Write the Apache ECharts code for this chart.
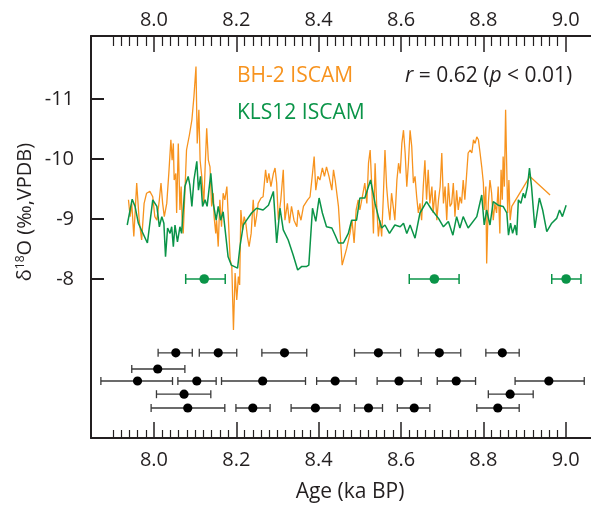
<!DOCTYPE html>
<html>
<head>
<meta charset="utf-8">
<script src="https://cdn.jsdelivr.net/npm/echarts@6/dist/echarts.min.js"></script>
<style>
html,body{margin:0;padding:0;background:#fff;}
#c{width:591px;height:508px;}
</style>
</head>
<body>
<div id="c"></div>
<script>
// ---- tick values ----
const ageMajorTicks = [8.0, 8.2, 8.4, 8.6, 8.8, 9.0];
const ageMinorTicks = [7.90, 7.92, 7.94, 7.96, 7.98, 8.02, 8.04, 8.06, 8.08, 8.10, 8.12, 8.14, 8.16, 8.18,
  8.22, 8.24, 8.26, 8.28, 8.30, 8.32, 8.34, 8.36, 8.38, 8.42, 8.44, 8.46, 8.48, 8.50, 8.52, 8.54, 8.56, 8.58,
  8.62, 8.64, 8.66, 8.68, 8.70, 8.72, 8.74, 8.76, 8.78, 8.82, 8.84, 8.86, 8.88, 8.90, 8.92, 8.94, 8.96, 8.98];
const d18OTicks = [-11, -10, -9, -8];

// ---- BH-2 ISCAM (orange) ----
const bh2Age = [7.938,7.942,7.946,7.951,7.958,7.964,7.970,7.976,7.982,7.990,7.997,8.002,8.007,8.013,8.017,8.021,8.025,8.031,8.036,8.041,
 8.044,8.047,8.049,8.053,8.055,8.059,8.063,8.066,8.068,8.071,8.075,8.079,8.086,8.092,8.097,8.102,8.105,8.109,8.112,8.116,
 8.121,8.124,8.128,8.132,8.136,8.140,8.144,8.146,8.150,8.152,8.156,8.160,8.164,8.168,8.172,8.177,8.180,8.185,8.189,8.193,
 8.197,8.201,8.205,8.208,8.211,8.215,8.219,8.223,8.227,8.231,8.236,8.241,8.245,8.249,8.253,8.260,8.265,8.271,8.275,8.279,
 8.284,8.290,8.294,8.298,8.302,8.308,8.314,8.318,8.324,8.329,8.334,8.340,8.347,8.350,8.357,8.363,8.367,8.373,8.379,8.385,
 8.389,8.393,8.398,8.403,8.409,8.414,8.419,8.425,8.432,8.436,8.440,8.448,8.457,8.468,8.476,8.481,8.486,8.491,8.496,8.500,
 8.506,8.512,8.517,8.521,8.525,8.529,8.533,8.537,8.541,8.545,8.549,8.553,8.557,8.561,8.565,8.569,8.573,8.577,8.581,8.585,
 8.590,8.594,8.598,8.602,8.606,8.610,8.614,8.618,8.622,8.626,8.630,8.634,8.638,8.642,8.646,8.650,8.654,8.658,8.662,8.666,
 8.670,8.675,8.678,8.683,8.687,8.691,8.695,8.699,8.703,8.707,8.711,8.715,8.719,8.723,8.727,8.731,8.735,8.739,8.743,8.747,
 8.751,8.755,8.759,8.763,8.768,8.772,8.776,8.780,8.784,8.788,8.792,8.796,8.800,8.802,8.806,8.808,8.812,8.816,8.820,8.824,
 8.828,8.832,8.836,8.840,8.843,8.846,8.848,8.851,8.854,8.856,8.859,8.862,8.865,8.869,8.873,8.913,8.962];
const bh2D18O = [-9.32,-9.04,-9.26,-8.71,-9.60,-8.98,-8.65,-9.26,-9.43,-9.46,-9.37,-9.04,-8.98,-9.32,-9.60,-9.26,-9.04,-9.26,-9.76,-10.32,
 -9.98,-10.26,-9.65,-9.76,-9.10,-10.26,-9.15,-9.54,-9.04,-8.76,-9.43,-10.15,-10.40,-10.65,-11.04,-11.54,-10.26,-10.82,-9.98,-9.71,
 -9.26,-9.82,-10.51,-9.98,-9.87,-9.21,-9.43,-9.04,-8.76,-8.98,-8.54,-9.32,-8.87,-9.43,-9.32,-9.54,-9.10,-8.32,-8.21,-7.15,
 -8.10,-7.65,-8.04,-7.90,-9.15,-8.82,-9.04,-8.93,-8.70,-8.54,-8.76,-9.32,-8.87,-9.04,-9.26,-9.35,-9.37,-9.82,-9.60,-9.76,
 -9.54,-9.76,-9.85,-9.60,-8.98,-9.32,-9.82,-8.98,-9.26,-8.93,-9.21,-8.98,-8.87,-9.15,-8.98,-9.21,-9.21,-9.32,-9.37,-9.76,
 -10.04,-9.48,-9.71,-9.65,-9.85,-9.71,-9.87,-9.71,-9.48,-9.82,-9.65,-9.21,-8.23,-8.51,-8.76,-8.98,-8.60,-9.15,-9.32,-9.15,
 -9.37,-9.60,-9.26,-9.93,-10.15,-9.54,-8.76,-9.93,-9.21,-8.71,-8.98,-8.71,-9.37,-10.15,-9.54,-9.21,-8.98,-9.43,-9.21,-8.98,
 -9.65,-9.93,-9.76,-10.26,-10.48,-10.10,-9.54,-9.93,-10.48,-10.21,-9.60,-9.71,-9.37,-9.10,-9.26,-8.98,-9.54,-9.98,-9.32,-9.82,
 -9.26,-9.54,-9.10,-9.48,-8.98,-9.32,-9.54,-10.10,-9.26,-9.54,-8.98,-9.60,-9.21,-9.26,-9.60,-9.04,-9.48,-9.15,-9.37,-9.26,
 -9.65,-9.32,-9.71,-10.10,-10.15,-10.10,-10.32,-10.26,-10.37,-10.32,-10.10,-9.87,-9.60,-9.15,-9.54,-8.26,-9.26,-9.65,-9.43,-8.98,
 -9.26,-9.10,-9.54,-8.76,-9.82,-9.32,-10.04,-9.54,-10.82,-10.10,-9.10,-9.65,-8.98,-9.21,-9.20,-9.71,-9.40];

// ---- KLS12 ISCAM (green) ----
const klsAge = [7.935,7.947,7.954,7.962,7.984,7.997,8.007,8.013,8.019,8.024,8.028,8.033,8.039,8.043,8.047,8.051,8.057,8.063,8.067,8.075,
 8.083,8.087,8.092,8.097,8.104,8.108,8.113,8.118,8.124,8.129,8.138,8.144,8.151,8.156,8.162,8.168,8.180,8.188,8.203,8.209,
 8.217,8.225,8.237,8.249,8.265,8.278,8.290,8.298,8.306,8.314,8.326,8.338,8.349,8.359,8.371,8.376,8.385,8.393,8.401,8.409,
 8.419,8.432,8.440,8.448,8.460,8.472,8.480,8.492,8.500,8.512,8.526,8.537,8.545,8.553,8.561,8.572,8.585,8.598,8.606,8.614,
 8.622,8.634,8.646,8.662,8.675,8.691,8.703,8.715,8.726,8.735,8.743,8.751,8.763,8.784,8.796,8.802,8.808,8.816,8.824,8.836,
 8.848,8.857,8.861,8.866,8.871,8.877,8.881,8.885,8.891,8.897,8.901,8.907,8.912,8.917,8.925,8.936,8.944,8.954,8.966,8.978,
 8.985,8.992,9.001];
const klsD18O = [-8.90,-9.33,-9.21,-8.93,-8.60,-9.32,-9.21,-8.87,-9.04,-8.93,-8.37,-8.85,-8.76,-8.87,-8.54,-8.90,-8.62,-8.87,-8.76,-9.54,
 -9.71,-9.57,-9.21,-9.65,-9.96,-9.48,-9.71,-9.21,-9.32,-9.21,-9.76,-9.26,-8.98,-9.21,-8.98,-9.12,-8.37,-8.23,-8.18,-8.55,
 -8.90,-8.98,-9.10,-9.18,-9.15,-9.23,-9.46,-8.60,-9.18,-8.82,-8.65,-8.40,-8.15,-8.21,-8.21,-8.23,-9.18,-8.96,-9.35,-9.10,
 -8.87,-8.85,-8.73,-8.60,-8.60,-8.76,-8.98,-8.98,-9.35,-9.35,-9.65,-9.26,-9.04,-8.85,-8.90,-8.76,-8.90,-8.87,-8.93,-8.76,
 -8.90,-8.68,-9.10,-9.29,-9.15,-9.01,-8.87,-8.96,-8.73,-9.04,-8.85,-9.04,-8.85,-9.04,-9.40,-8.90,-9.15,-8.90,-9.29,-9.23,
 -9.21,-9.10,-8.73,-8.93,-8.76,-8.90,-8.73,-9.32,-9.26,-9.43,-9.35,-9.54,-9.85,-9.54,-8.85,-9.35,-9.15,-8.79,-8.93,-9.01,
 -9.15,-9.04,-9.23];

// ---- green dated points (with age uncertainty) ----
const greenAge = [8.122, 8.681, 9.001];
const greenLo  = [8.077, 8.620, 8.966];
const greenHi  = [8.173, 8.741, 9.037];
const greenLevel = [-8, -8, -8];

// ---- black age-model points ----
const blackAge = [8.053, 8.156, 8.317, 8.545, 8.693, 8.846,
  8.009,
  7.960, 8.104, 8.264, 8.440, 8.595, 8.734, 8.959,
  8.073, 8.865,
  8.082, 8.240, 8.392, 8.521, 8.632, 8.835];
const blackLo = [8.010, 8.110, 8.262, 8.487, 8.642, 8.806,
  7.946,
  7.871, 8.058, 8.164, 8.395, 8.542, 8.688, 8.877,
  8.006, 8.812,
  7.993, 8.199, 8.333, 8.487, 8.591, 8.784];
const blackHi = [8.093, 8.201, 8.371, 8.599, 8.745, 8.887,
  8.075,
  8.045, 8.151, 8.368, 8.491, 8.649, 8.781, 9.045,
  8.138, 8.921,
  8.172, 8.282, 8.452, 8.555, 8.670, 8.887];
const blackLevel = [-6.77, -6.77, -6.77, -6.77, -6.77, -6.77,
  -6.50,
  -6.30, -6.30, -6.30, -6.30, -6.30, -6.30, -6.30,
  -6.08, -6.08,
  -5.85, -5.85, -5.85, -5.85, -5.85, -5.85];

const ORANGE = '#F7931E', GREEN = '#0A9448', INK = '#231F20';
const FONT = 'Open Sans';

function zip2(a, b) { return a.map((v, i) => [v, b[i]]); }
function zip4(a, b, c, d) { return a.map((v, i) => [v, b[i], c[i], d[i]]); }

function errRender(dotColor, barColor, r, lw, cap) {
  return function (params, api) {
    const x = api.value(0), lo = api.value(1), hi = api.value(2), y = api.value(3);
    const c = api.coord([x, y]), a = api.coord([lo, y]), b = api.coord([hi, y]);
    const ls = { stroke: barColor, lineWidth: lw };
    return {
      type: 'group',
      children: [
        { type: 'line', shape: { x1: a[0], y1: a[1], x2: b[0], y2: b[1] }, style: ls },
        { type: 'line', shape: { x1: a[0], y1: a[1] - cap, x2: a[0], y2: a[1] + cap }, style: ls },
        { type: 'line', shape: { x1: b[0], y1: b[1] - cap, x2: b[0], y2: b[1] + cap }, style: ls },
        { type: 'circle', shape: { cx: c[0], cy: c[1], r: r }, style: { fill: dotColor } }
      ]
    };
  };
}

const X_MIN = 7.847, X_MAX = 9.0614;
const baseX = {
  type: 'value', min: X_MIN, max: X_MAX,
  splitLine: { show: false },
  axisLine: { show: false }
};
const labelStyle = { color: INK, fontFamily: FONT, fontSize: 20 };

const chart = echarts.init(document.getElementById('c'), null, { renderer: 'canvas' });
chart.setOption({
  animation: false,
  backgroundColor: '#fff',
  grid: { left: 91, right: 0, top: 36, bottom: 70, containLabel: false },
  xAxis: [
    Object.assign({}, baseX, {
      position: 'bottom',
      axisLine: { show: true, onZero: false, lineStyle: { color: INK, width: 2 } },
      axisTick: { show: true, inside: true, length: 16, customValues: ageMajorTicks, lineStyle: { color: INK, width: 1.5 } },
      axisLabel: Object.assign({ show: true, margin: 12, customValues: ageMajorTicks, formatter: v => v.toFixed(1) }, labelStyle)
    }),
    Object.assign({}, baseX, {
      position: 'bottom',
      axisTick: { show: true, inside: true, length: 8, customValues: ageMinorTicks, lineStyle: { color: INK, width: 1.2 } },
      axisLabel: { show: false }
    }),
    Object.assign({}, baseX, {
      position: 'top',
      axisLine: { show: true, onZero: false, lineStyle: { color: INK, width: 2 } },
      axisTick: { show: true, inside: true, length: 16, customValues: ageMajorTicks, lineStyle: { color: INK, width: 1.5 } },
      axisLabel: Object.assign({ show: true, margin: 6, customValues: ageMajorTicks, formatter: v => v.toFixed(1) }, labelStyle)
    }),
    Object.assign({}, baseX, {
      position: 'top',
      axisTick: { show: true, inside: true, length: 10, customValues: ageMinorTicks, lineStyle: { color: INK, width: 1.2 } },
      axisLabel: { show: false }
    })
  ],
  yAxis: [{
    type: 'value', inverse: true, min: -12.05, max: -5.35, position: 'left',
    splitLine: { show: false },
    axisLine: { show: true, onZero: false, lineStyle: { color: INK, width: 2 } },
    axisTick: { show: true, inside: true, length: 13, customValues: d18OTicks, lineStyle: { color: INK, width: 2 } },
    axisLabel: Object.assign({ show: true, margin: 17, customValues: d18OTicks, formatter: v => String(Math.round(v)) }, labelStyle)
  }],
  graphic: [
    { type: 'text', left: 237, top: 66, style: { text: 'BH-2 ISCAM', fill: ORANGE, font: '21px "Open Sans"' } },
    { type: 'text', left: 237, top: 103, style: { text: 'KLS12 ISCAM', fill: GREEN, font: '21px "Open Sans"' } },
    { type: 'text', left: 405, top: 66, style: {
        text: '{i|r} = 0.62 ({i|p} < 0.01)', fill: INK, font: '21px "Open Sans"',
        rich: { i: { fontStyle: 'italic', fontFamily: FONT, fontSize: 21, fill: INK } } } },
    { type: 'text', x: 25, y: 212, rotation: Math.PI / 2, style: {
        text: 'δ{s|18}O (‰,VPDB)', fill: INK, font: '20px "Open Sans"', align: 'center', verticalAlign: 'middle',
        rich: { s: { fontSize: 12, fontFamily: FONT, fill: INK, verticalAlign: 'top', padding: [0, 0, 8, 0] } } } },
    { type: 'text', x: 350, y: 492, style: { text: 'Age (ka BP)', fill: INK, font: '21px "Open Sans"', align: 'center', verticalAlign: 'middle' } }
  ],
  series: [
    {
      name: 'BH-2 ISCAM', type: 'line', xAxisIndex: 0, yAxisIndex: 0,
      data: zip2(bh2Age, bh2D18O), showSymbol: false, symbol: 'none',
      lineStyle: { color: ORANGE, width: 1.3 }, z: 2
    },
    {
      name: 'KLS12 ISCAM', type: 'line', xAxisIndex: 0, yAxisIndex: 0,
      data: zip2(klsAge, klsD18O), showSymbol: false, symbol: 'none',
      lineStyle: { color: GREEN, width: 1.5 }, z: 3
    },
    {
      name: 'green dates', type: 'custom', xAxisIndex: 0, yAxisIndex: 0,
      data: zip4(greenAge, greenLo, greenHi, greenLevel),
      encode: { x: [0, 1, 2], y: 3 },
      renderItem: errRender(GREEN, GREEN, 4.8, 1.5, 5), z: 4
    },
    {
      name: 'age model', type: 'custom', xAxisIndex: 0, yAxisIndex: 0,
      data: zip4(blackAge, blackLo, blackHi, blackLevel),
      encode: { x: [0, 1, 2], y: 3 },
      renderItem: errRender('#000', '#3a3a3a', 4.6, 1.3, 4), z: 4
    }
  ]
});
</script>
</body>
</html>
